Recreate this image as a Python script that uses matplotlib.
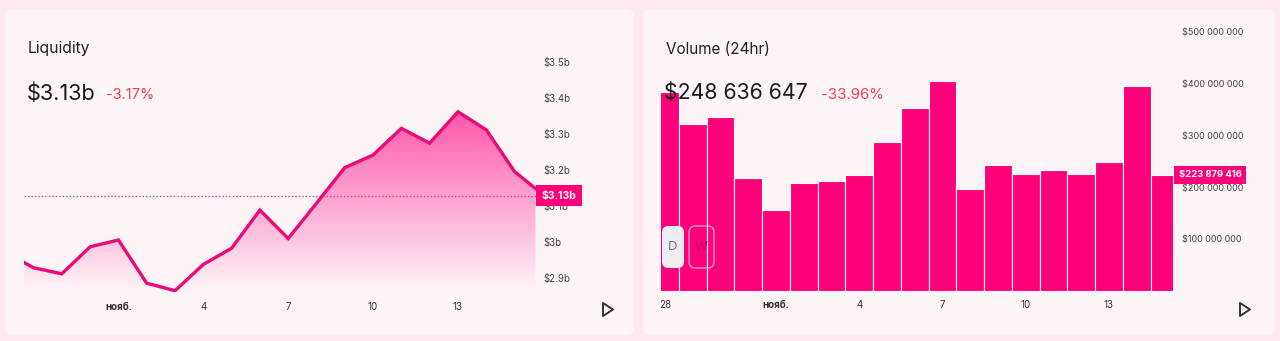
import numpy as np
import matplotlib
matplotlib.use("Agg")
import matplotlib.pyplot as plt
from matplotlib.patches import FancyBboxPatch, Polygon

plt.rcParams['font.family'] = ['Inter', 'DejaVu Sans']

# --- данные: ликвидность (дни: 31 окт = 0, 1 нояб = 1) ---
liq_days = [-3, -2, -1, 0, 1, 2, 3, 4, 5, 6, 7, 8, 9, 10, 11, 12, 13, 14, 15, 15.74]
liq_vals = [2.973, 2.930, 2.913, 2.988, 3.007, 2.887, 2.866, 2.939, 2.984, 3.090,
            3.011, 3.109, 3.208, 3.243, 3.317, 3.276, 3.363, 3.313, 3.197, 3.150]
liq_now = 3.13
liq_yticks = [2.9, 3.0, 3.1, 3.2, 3.3, 3.4, 3.5]
liq_ylabels = ['$2.9b', '$3b', '$3.1b', '$3.2b', '$3.3b', '$3.4b', '$3.5b']

# --- данные: объём за 24ч (28 окт .. 15 нояб) ---
vol_days = list(range(-3, 16))
vol_vals = [384, 322, 335, 217, 156, 207, 212, 223, 288, 353,
            405, 196, 242, 225, 233, 225, 248, 396, 223.879416]  # млн $
vol_now = 223.879416
vol_yticks = [100, 200, 300, 400, 500]
vol_ylabels = ['$100 000 000', '$200 000 000', '$300 000 000', '$400 000 000', '$500 000 000']

xt_liq = [1, 4, 7, 10, 13]
xl_liq = ['нояб.', '4', '7', '10', '13']
xt_vol = [-3, 1, 4, 7, 10, 13]
xl_vol = ['28', 'нояб.', '4', '7', '10', '13']

PINK = '#ff007a'
LINE = '#ea0a78'
RED = '#f2404f'
W, H = 1280, 341


def fx(x):
    return x / W


def fy(y):
    return 1 - y / H


def rect(x0, y0, x1, y1):
    return [fx(x0), fy(y1), fx(x1 - x0), (y1 - y0) / H]


fig = plt.figure(figsize=(12.8, 3.41), dpi=100, facecolor='#fbe8f0')

# карточки
for x0, x1 in [(5, 634), (643, 1275)]:
    card = FancyBboxPatch((fx(x0), fy(335)), fx(x1 - x0), 326 / H,
                          boxstyle="round,pad=0,rounding_size=0.006",
                          transform=fig.transFigure, facecolor='#fdf4f8',
                          edgecolor='#fbeef4', lw=1, mutation_aspect=W / H, zorder=0)
    fig.patches.append(card)

# ---------- Liquidity ----------
ax1 = fig.add_axes(rect(24, 55, 535.5, 292))
ax1.set_zorder(2)
ax1.set_facecolor('none')
ylo, yhi = 2.8625, 3.5208
xlo, xhi = -2.336, 15.74

fill = ax1.fill_between(liq_days, liq_vals, ylo, color='none', lw=0)
grad = np.zeros((200, 2, 4))
grad[..., 0] = 1.0
grad[..., 1] = 0.1
grad[..., 2] = 0.55
grad[..., 3] = np.linspace(0.0, 0.72, 200)[:, None]
img = ax1.imshow(grad, extent=[xlo, xhi, ylo, max(liq_vals)], aspect='auto',
                 origin='lower', zorder=1, interpolation='bilinear')
img.set_clip_path(fill.get_paths()[0], transform=ax1.transData)
ax1.plot(liq_days, liq_vals, color=LINE, lw=2.4, zorder=3, solid_joinstyle='miter')
ax1.axhline(liq_now, color='#e8388a', lw=1, ls=(0, (1, 1.5)), zorder=2)
ax1.set_xlim(xlo, xhi)
ax1.set_ylim(ylo, yhi)

# ---------- Volume ----------
ax2 = fig.add_axes(rect(661, 21, 1172.7, 290.7))
ax2.set_zorder(2)
ax2.set_facecolor('none')
ax2.bar(vol_days, vol_vals, width=1.0, color=PINK, edgecolor='white', lw=0.8, zorder=2)
ax2.set_xlim(-3.144, 15.296)
ax2.set_ylim(0, 520.7)

for ax, xt, xl, yt, yl, fs in [(ax1, xt_liq, xl_liq, liq_yticks, liq_ylabels, 7),
                               (ax2, xt_vol, xl_vol, vol_yticks, vol_ylabels, 6.5)]:
    for s in ax.spines.values():
        s.set_visible(False)
    ax.yaxis.tick_right()
    ax.set_yticks(yt)
    ax.set_yticklabels(yl, fontsize=fs, color='#444444')
    ax.set_xticks(xt)
    ax.set_xticklabels(xl, fontsize=7, color='#333333')
    ax.tick_params(length=0, pad=7)
    for t in ax.get_yticklabels():
        t.set_horizontalalignment('left')
    for t in ax.get_xticklabels():
        if t.get_text() == 'нояб.':
            t.set_fontweight('bold')
ax1.tick_params(axis='y', pad=6)
ax2.tick_params(axis='y', pad=6.5)

# подписи текущих значений
ax1.annotate('$3.13b', xy=(1, liq_now), xycoords=ax1.get_yaxis_transform(),
             xytext=(6, 0), textcoords='offset pixels', ha='left', va='center',
             fontsize=7.5, fontweight='bold', color='white', zorder=5,
             bbox=dict(boxstyle='square,pad=0.55', fc=PINK, ec='none'))
ax2.annotate('$223 879 416', xy=(1, vol_now), xycoords=ax2.get_yaxis_transform(),
             xytext=(6, 0), textcoords='offset pixels', ha='left', va='center',
             fontsize=6.8, fontweight='bold', color='white', zorder=5,
             bbox=dict(boxstyle='square,pad=0.5', fc=PINK, ec='none'))

# заголовки
fig.text(fx(28), fy(49), 'Liquidity', fontsize=11.3, color='#222222', va='center', zorder=10)
fig.text(fx(27), fy(94), '$3.13b', fontsize=15.6, color='#1a1a1a', va='center', zorder=10)
fig.text(fx(106), fy(95), '-3.17%', fontsize=10.5, color=RED, va='center', zorder=10)
fig.text(fx(666), fy(49), 'Volume (24hr)', fontsize=11, color='#222222', va='center', zorder=10)
fig.text(fx(664), fy(93), '$248 636 647', fontsize=15.3, color='#1a1a1a', va='center', zorder=10)
fig.text(fx(821), fy(95), '-33.96%', fontsize=10.8, color=RED, va='center', zorder=10)

# кнопки D / W
btn_d = FancyBboxPatch((fx(662), fy(268)), fx(22), 42 / H,
                       boxstyle="round,pad=0,rounding_size=0.005",
                       transform=fig.transFigure, facecolor='#ececf1',
                       edgecolor='none', mutation_aspect=W / H, zorder=10)
btn_w = FancyBboxPatch((fx(689), fy(268)), fx(25), 42 / H,
                       boxstyle="round,pad=0,rounding_size=0.005",
                       transform=fig.transFigure, facecolor='none',
                       edgecolor='#ff9ccb', lw=1, mutation_aspect=W / H, zorder=10)
fig.patches.extend([btn_d, btn_w])
fig.text(fx(673), fy(247), 'D', fontsize=9.5, color='#777777', ha='center', va='center', zorder=11)
fig.text(fx(701.5), fy(247), 'W', fontsize=9.5, color='#b8006a', ha='center', va='center', zorder=11)

# кнопки воспроизведения
for x0 in [603, 1240]:
    tri = Polygon([(fx(x0), fy(303)), (fx(x0), fy(316)), (fx(x0 + 10), fy(309.5))],
                  closed=True, transform=fig.transFigure, fill=False,
                  edgecolor='#333333', lw=1.4, joinstyle='round')
    fig.patches.append(tri)

fig.savefig('out.png', dpi=100, facecolor=fig.get_facecolor())
